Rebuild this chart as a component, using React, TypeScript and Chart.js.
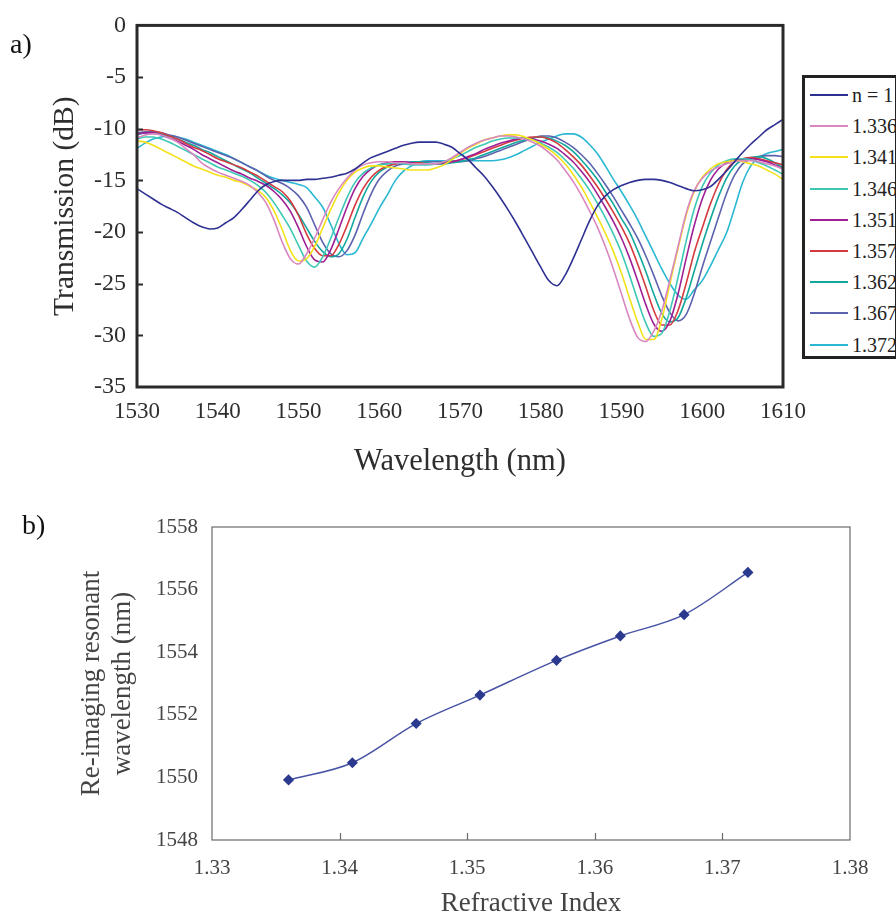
import React, { useEffect, useRef } from 'react';
import { Chart, registerables } from 'chart.js';

Chart.register(...registerables);

// ---------- Panel a) data ----------
const wavelengths = [
  1530, 1531, 1532, 1533, 1534, 1535, 1536, 1537, 1538, 1539,
  1540, 1541, 1542, 1543, 1544, 1545, 1546, 1547, 1548, 1549,
  1550, 1551, 1552, 1553, 1554, 1555, 1556, 1557, 1558, 1559,
  1560, 1561, 1562, 1563, 1564, 1565, 1566, 1567, 1568, 1569,
  1570, 1571, 1572, 1573, 1574, 1575, 1576, 1577, 1578, 1579,
  1580, 1581, 1582, 1583, 1584, 1585, 1586, 1587, 1588, 1589,
  1590, 1591, 1592, 1593, 1594, 1595, 1596, 1597, 1598, 1599,
  1600, 1601, 1602, 1603, 1604, 1605, 1606, 1607, 1608, 1609,
  1610,
];

const seriesLabels = ['n = 1', '1.336', '1.341', '1.346', '1.351', '1.357', '1.362', '1.367', '1.372'];
const seriesColors = ['#2e3192', '#d987c0', '#f3e21a', '#3cc8b4', '#9e1f96', '#d43a3f', '#13a89e', '#5c62ae', '#2ab8d2'];

const tN1 = [
  -15.8, -16.3, -16.8, -17.3, -17.7, -18.1, -18.6, -19.1, -19.5, -19.7,
  -19.6, -19.1, -18.6, -17.8, -16.9, -16.0, -15.4, -15.1, -15.0, -15.0,
  -15.0, -14.9, -14.9, -14.8, -14.7, -14.5, -14.3, -13.9, -13.3, -12.8,
  -12.5, -12.2, -11.9, -11.6, -11.4, -11.3, -11.3, -11.3, -11.5, -11.8,
  -12.4, -13.0, -13.8, -14.6, -15.6, -16.7, -17.9, -19.2, -20.6, -22.0,
  -23.4, -24.7, -25.2, -24.2, -22.6, -20.8, -19.0, -17.5, -16.5, -15.9,
  -15.5, -15.2, -15.0, -14.9, -14.9, -15.0, -15.2, -15.5, -15.8, -16.0,
  -15.9, -15.6, -14.9, -14.1, -13.2, -12.3, -11.5, -10.8, -10.1, -9.6,
  -9.1,
];
const t1336 = [
  -10.9, -10.6, -10.5, -10.6, -10.9, -11.3, -11.9, -12.5, -13.3, -13.8,
  -14.2, -14.5, -14.8, -15.1, -15.5, -16.2, -17.2, -18.9, -21.0, -22.6,
  -23.1, -22.1, -20.6, -18.8, -17.1, -15.8, -14.8, -14.0, -13.5, -13.3,
  -13.2, -13.2, -13.3, -13.3, -13.4, -13.4, -13.4, -13.4, -13.2, -12.8,
  -12.3, -11.8, -11.4, -11.1, -10.9, -10.7, -10.7, -10.8, -11.0, -11.3,
  -11.7, -12.3, -13.0, -14.0, -15.1, -16.4, -17.9, -19.5, -21.4, -23.6,
  -26.0, -28.4, -30.2, -30.6, -29.6, -27.6, -24.6, -21.4, -18.2, -16.0,
  -14.8, -14.1, -13.7, -13.4, -13.2, -13.1, -13.1, -13.2, -13.4, -13.6,
  -13.9,
];
const t1341 = [
  -11.2, -11.3, -11.6, -12.0, -12.4, -12.8, -13.2, -13.6, -13.9, -14.2,
  -14.5, -14.7, -15.0, -15.2, -15.6, -16.0, -16.7, -18.0, -19.8, -21.8,
  -22.8, -22.6, -21.4, -19.6, -17.8, -16.2, -15.0, -14.2, -13.8, -13.6,
  -13.6, -13.7, -13.8, -13.9, -14.0, -14.0, -14.0, -13.8, -13.5, -13.0,
  -12.4, -11.9, -11.5, -11.1, -10.9, -10.7, -10.6, -10.6, -10.8, -11.1,
  -11.5, -12.0, -12.6, -13.4, -14.4, -15.6, -17.0, -18.5, -20.1, -21.9,
  -24.0, -26.4, -28.7, -30.4, -30.4, -28.4, -25.0, -21.6, -18.4, -16.1,
  -14.7, -13.9, -13.4, -13.2, -13.1, -13.2, -13.4, -13.6, -14.0, -14.4,
  -14.9,
];
const t1346 = [
  -11.0, -10.8, -10.8, -11.0, -11.3, -11.7, -12.1, -12.5, -12.9, -13.3,
  -13.7, -14.0, -14.3, -14.6, -15.0, -15.5, -16.2, -17.2, -18.4, -19.7,
  -21.3, -22.8, -23.4, -22.4, -20.6, -18.6, -16.7, -15.2, -14.3, -13.8,
  -13.5, -13.4, -13.3, -13.4, -13.5, -13.5, -13.5, -13.4, -13.2, -12.9,
  -12.6, -12.2, -11.8, -11.5, -11.2, -11.0, -10.9, -10.9, -10.9, -11.1,
  -11.4, -11.8, -12.3, -13.0, -13.8, -14.8, -15.9, -17.2, -18.6, -20.2,
  -22.0, -24.2, -26.6, -28.8, -30.1, -29.8, -27.6, -24.4, -20.9, -17.8,
  -15.6, -14.3, -13.5, -13.1, -12.9, -12.9, -13.0, -13.3, -13.6, -14.0,
  -14.4,
];
const t1351 = [
  -10.5, -10.4, -10.4, -10.6, -10.9, -11.2, -11.6, -12.0, -12.5, -12.9,
  -13.3, -13.7, -14.1, -14.4, -14.8, -15.1, -15.5, -16.1, -16.9, -18.0,
  -19.6, -21.4, -22.7, -22.9, -21.7, -19.7, -17.6, -15.8, -14.6, -13.9,
  -13.5, -13.3, -13.2, -13.2, -13.3, -13.4, -13.4, -13.4, -13.3, -13.2,
  -13.0, -12.7, -12.4, -12.0, -11.7, -11.4, -11.2, -11.0, -10.9, -11.0,
  -11.2, -11.5, -11.9, -12.5, -13.2, -14.1, -15.1, -16.3, -17.6, -19.0,
  -20.6, -22.5, -24.7, -27.0, -28.9, -29.6, -28.6, -26.0, -22.6, -19.4,
  -16.8, -15.0, -13.9, -13.3, -13.0, -12.9, -12.9, -13.0, -13.2, -13.5,
  -13.9,
];
const t1357 = [
  -10.1, -10.1, -10.2, -10.4, -10.7, -11.0, -11.4, -11.8, -12.1, -12.5,
  -12.9, -13.2, -13.5, -13.8, -14.2, -14.6, -15.1, -15.6, -16.1, -17.0,
  -18.4, -20.2, -21.6, -22.3, -22.3, -21.2, -19.4, -17.4, -15.8, -14.7,
  -14.0, -13.6, -13.4, -13.3, -13.3, -13.3, -13.4, -13.4, -13.3, -13.2,
  -13.0, -12.8, -12.5, -12.2, -11.9, -11.6, -11.3, -11.1, -10.9, -10.8,
  -10.8, -11.0, -11.4, -12.0, -12.7, -13.5, -14.5, -15.6, -16.8, -18.1,
  -19.5, -21.1, -23.1, -25.3, -27.6, -29.0, -29.0, -27.6, -25.0, -22.0,
  -19.6, -17.3, -15.4, -14.0, -13.2, -12.9, -12.8, -12.9, -13.1, -13.3,
  -13.5,
];
const t1362 = [
  -10.6, -10.4, -10.4, -10.5, -10.7, -11.0, -11.3, -11.6, -12.0, -12.3,
  -12.7, -13.1, -13.5, -13.9, -14.3, -14.8, -15.3, -15.8, -16.4, -17.2,
  -18.3, -19.6, -20.9, -21.9, -22.4, -22.1, -20.7, -18.6, -16.6, -15.1,
  -14.2, -13.7, -13.4, -13.3, -13.2, -13.2, -13.3, -13.4, -13.4, -13.3,
  -13.2, -13.0, -12.8, -12.5, -12.2, -11.9, -11.6, -11.3, -11.1, -10.9,
  -10.8, -10.9, -11.2, -11.6, -12.2, -13.0, -13.9, -14.9, -16.1, -17.3,
  -18.7, -20.0, -21.8, -23.8, -26.0, -27.9, -28.7, -28.3, -26.4, -23.8,
  -21.2, -18.8, -16.6, -14.8, -13.6, -13.0, -12.8, -12.7, -12.9, -13.3,
  -13.8,
];
const t1367 = [
  -10.4, -10.3, -10.3, -10.4, -10.6, -10.8, -11.1, -11.4, -11.7, -12.0,
  -12.3, -12.6, -12.9, -13.3, -13.7, -14.1, -14.6, -15.0, -15.3, -15.8,
  -16.5, -17.6, -19.3, -21.0, -22.1, -22.4, -21.8, -20.3, -18.2, -16.3,
  -14.9, -14.1, -13.6, -13.4, -13.3, -13.2, -13.2, -13.2, -13.2, -13.2,
  -13.2, -13.1, -12.9, -12.7, -12.4, -12.1, -11.8, -11.5, -11.2, -10.9,
  -10.7, -10.7, -10.9, -11.3, -11.8, -12.5, -13.3, -14.3, -15.4, -16.6,
  -17.9, -19.2, -20.6, -22.3, -24.2, -26.2, -27.8, -28.6, -28.0, -26.0,
  -23.4, -21.0, -18.6, -16.3, -14.5, -13.4, -12.9, -12.7, -12.6, -12.6,
  -12.7,
];
const t1372 = [
  -11.9, -11.4, -11.0, -10.8, -10.7, -10.8, -11.0, -11.3, -11.6, -11.9,
  -12.2, -12.5, -12.9, -13.3, -13.7, -14.1, -14.5, -14.8, -15.0, -15.2,
  -15.4, -15.7, -16.6, -17.6, -19.3, -21.1, -22.2, -22.0, -20.6, -19.2,
  -17.7, -16.4, -15.0, -14.1, -13.6, -13.2, -13.1, -13.1, -13.1, -13.1,
  -13.1, -13.1, -13.1, -13.1, -13.1, -13.0, -12.8, -12.5, -12.1, -11.7,
  -11.3, -11.0, -10.7, -10.5, -10.5, -10.8, -11.5, -12.4, -13.6, -14.9,
  -16.1, -17.4, -18.8, -20.4, -22.0, -23.6, -25.0, -26.1, -26.5, -25.6,
  -24.7, -23.3, -21.7, -20.1, -17.7, -15.2, -13.6, -12.8, -12.4, -12.2,
  -12.0,
];
const transmissionSeries = [tN1, t1336, t1341, t1346, t1351, t1357, t1362, t1367, t1372];

// ---------- Panel b) data ----------
const refractiveIndex = [1.336, 1.341, 1.346, 1.351, 1.357, 1.362, 1.367, 1.372];
const resonantWavelength = [1549.92, 1550.47, 1551.72, 1552.63, 1553.74, 1554.52, 1555.2, 1556.55];

const FONT = "'Liberation Serif', 'Times New Roman', serif";

const framePlugin = {
  id: 'frame',
  afterDatasetsDraw(chart: any, _args: any, opts: any) {
    const { ctx, chartArea: a } = chart;
    ctx.save();
    ctx.strokeStyle = opts.color;
    ctx.lineWidth = opts.width;
    ctx.strokeRect(a.left, a.top, a.right - a.left, a.bottom - a.top);
    ctx.lineWidth = opts.tickWidth;
    if (opts.yTicks) {
      const s = chart.scales.y;
      s.ticks.forEach((t: any, i: number) => {
        if (i === 0 || i === s.ticks.length - 1) return;
        const y = Math.round(s.getPixelForValue(t.value)) + 0.5;
        ctx.beginPath();
        ctx.moveTo(a.left, y);
        ctx.lineTo(a.left + opts.tickLen, y);
        ctx.stroke();
      });
    }
    if (opts.xTicks) {
      const s = chart.scales.x;
      s.ticks.forEach((t: any, i: number) => {
        if (i === 0 || i === s.ticks.length - 1) return;
        const x = Math.round(s.getPixelForValue(t.value)) + 0.5;
        ctx.beginPath();
        ctx.moveTo(x, a.bottom);
        ctx.lineTo(x, a.bottom - opts.tickLen);
        ctx.stroke();
      });
    }
    ctx.restore();
  },
};

const plain = (v: any) => String(v);

function TransmissionChart() {
  const ref = useRef<HTMLCanvasElement>(null);
  useEffect(() => {
    const color = '#2e2e2e';
    const chart = new Chart(ref.current as HTMLCanvasElement, {
      type: 'line',
      data: {
        datasets: transmissionSeries.map((vals, i) => ({
          label: seriesLabels[i],
          data: vals.map((v, j) => ({ x: wavelengths[j], y: v })),
          borderColor: seriesColors[i],
          backgroundColor: seriesColors[i],
          borderWidth: 1.6,
          pointRadius: 0,
          cubicInterpolationMode: 'monotone' as const,
          fill: false,
        })),
      },
      options: {
        responsive: false,
        animation: false,
        layout: { padding: { left: 0, top: 22, right: 113, bottom: 0 } },
        plugins: {
          legend: { display: false },
          tooltip: { enabled: false },
          frame: { color: '#2a2a2a', width: 3, tickWidth: 2, tickLen: 6, yTicks: true, xTicks: false },
        } as any,
        scales: {
          x: {
            type: 'linear',
            min: 1530,
            max: 1610,
            afterFit: (s: any) => { s.height = 93; },
            grid: { display: false, drawTicks: false },
            border: { display: false },
            ticks: { stepSize: 10, autoSkip: false, maxRotation: 0, padding: 11, color, font: { family: FONT, size: 23 }, callback: plain },
            title: { display: true, text: 'Wavelength (nm)', color, font: { family: FONT, size: 30.5 }, padding: { top: 0, bottom: 0 } },
          },
          y: {
            type: 'linear',
            min: -35,
            max: 0,
            afterFit: (s: any) => { s.width = 137; },
            grid: { display: false, drawTicks: false },
            border: { display: false },
            ticks: { stepSize: 5, autoSkip: false, padding: 11, color, font: { family: FONT, size: 24 }, callback: plain },
            title: { display: true, text: 'Transmission (dB)', color, font: { family: FONT, size: 29.5 }, padding: { top: 48, bottom: 0 } },
          },
        },
      },
      plugins: [framePlugin],
    } as any);
    return () => chart.destroy();
  }, []);
  return <canvas ref={ref} width={896} height={480} style={{ position: 'absolute', left: 0, top: 0, width: 896, height: 480 }} />;
}

function ResonanceChart() {
  const ref = useRef<HTMLCanvasElement>(null);
  useEffect(() => {
    const color = '#444444';
    const chart = new Chart(ref.current as HTMLCanvasElement, {
      type: 'line',
      data: {
        datasets: [
          {
            label: 'Re-imaging resonant wavelength',
            data: refractiveIndex.map((n, i) => ({ x: n, y: resonantWavelength[i] })),
            borderColor: '#4653a5',
            backgroundColor: '#2b3a8f',
            pointBorderColor: '#2b3a8f',
            pointBackgroundColor: '#2b3a8f',
            borderWidth: 1.5,
            pointStyle: 'rectRot',
            pointRadius: 4.5,
            cubicInterpolationMode: 'monotone' as const,
            fill: false,
          },
        ],
      },
      options: {
        responsive: false,
        animation: false,
        layout: { padding: { left: 0, top: 47, right: 46, bottom: 0 } },
        plugins: {
          legend: { display: false },
          tooltip: { enabled: false },
          frame: { color: '#6a6a6a', width: 1.2, tickWidth: 1.2, tickLen: 7, yTicks: false, xTicks: true },
        } as any,
        scales: {
          x: {
            type: 'linear',
            min: 1.33,
            max: 1.38,
            afterFit: (s: any) => { s.height = 80; },
            grid: { display: false, drawTicks: false },
            border: { display: false },
            ticks: {
              stepSize: 0.01,
              autoSkip: false,
              maxRotation: 0,
              padding: 16,
              color,
              font: { family: FONT, size: 21 },
              callback: (v: any) => Number(v).toFixed(2),
            },
            title: { display: true, text: 'Refractive Index', color, font: { family: FONT, size: 27 }, padding: { top: 0, bottom: 0 } },
          },
          y: {
            type: 'linear',
            min: 1548,
            max: 1558,
            afterFit: (s: any) => { s.width = 212; },
            grid: { display: false, drawTicks: false },
            border: { display: false },
            ticks: { stepSize: 2, autoSkip: false, padding: 14, color, font: { family: FONT, size: 21 }, callback: plain },
            title: {
              display: true,
              text: ['Re-imaging resonant', 'wavelength (nm)'],
              color,
              font: { family: FONT, size: 27, lineHeight: 1.15 },
              padding: { top: 76, bottom: 0 },
            },
          },
        },
      },
      plugins: [framePlugin],
    } as any);
    return () => chart.destroy();
  }, []);
  return <canvas ref={ref} width={896} height={440} style={{ position: 'absolute', left: 0, top: 480, width: 896, height: 440 }} />;
}

function Legend() {
  return (
    <>
      <div
        style={{
          position: 'absolute',
          left: 802,
          top: 75,
          width: 96,
          height: 284,
          border: '3px solid #222',
          boxSizing: 'border-box',
          background: '#fff',
        }}
      />
      {seriesLabels.map((lab, i) => (
        <div
          key={lab}
          style={{
            position: 'absolute',
            left: 810,
            top: 95 + i * 31.2 - 12,
            height: 24,
            display: 'flex',
            alignItems: 'center',
            whiteSpace: 'nowrap',
          }}
        >
          <div style={{ width: 38, height: 2, background: seriesColors[i], marginRight: 4 }} />
          <span style={{ fontFamily: FONT, fontSize: 20, color: '#222', lineHeight: '24px' }}>{lab}</span>
        </div>
      ))}
    </>
  );
}

export default function App() {
  return (
    <div style={{ position: 'absolute', left: 0, top: 0, width: 896, height: 920, background: '#fff', overflow: 'hidden' }}>
      <TransmissionChart />
      <ResonanceChart />
      <Legend />
      <div style={{ position: 'absolute', left: 10, top: 26, fontFamily: FONT, fontSize: 28, color: '#111', lineHeight: '36px' }}>a)</div>
      <div style={{ position: 'absolute', left: 22, top: 507, fontFamily: FONT, fontSize: 28, color: '#111', lineHeight: '36px' }}>b)</div>
    </div>
  );
}
